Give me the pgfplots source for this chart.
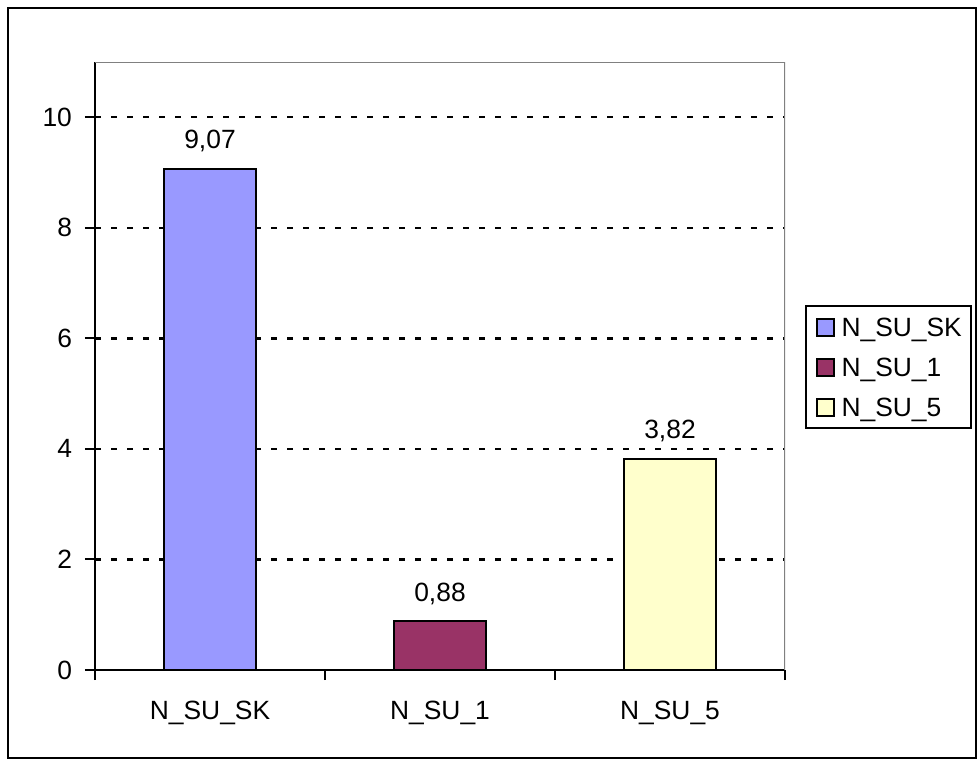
\documentclass[border=0pt]{standalone}
\usepackage{fontspec}
\setmainfont{Liberation Sans}
\usepackage{pgfplots}
\pgfplotsset{compat=1.18}
\definecolor{cBlue}{HTML}{9999FF}
\definecolor{cMaroon}{HTML}{993366}
\definecolor{cYellow}{HTML}{FFFFCC}
\begin{document}
\begin{tikzpicture}[x=1pt,y=1pt]
\path (0,0) rectangle (489,-380);
\draw[line width=1pt,black] (3.75,-3.75) rectangle (488,-379);
\begin{axis}[
  at={(47.5pt,-335pt)}, anchor=south west,
  scale only axis, width=345pt, height=304pt,
  ybar, bar shift=0pt, bar width=0.4,
  xmin=-0.5, xmax=2.5, ymin=0, ymax=11,
  xtick={0,1,2}, xticklabels={N\_SU\_SK,N\_SU\_1,N\_SU\_5},
  major x tick style={draw=none},
  minor xtick={-0.5,0.5,1.5,2.5},
  ytick={0,2,4,6,8,10},
  tick align=outside, major tick length=5pt, minor tick length=5pt,
  tick style={black, line width=1pt},
  minor tick style={black, line width=1pt},
  ymajorgrids,
  major grid style={black, line width=1.2pt, dash pattern=on 3pt off 5pt},
  axis line style={line width=1pt},
  axis x line*=bottom, axis y line*=left,
  every tick label/.append style={font=\fontsize{13.2}{15.5}\selectfont},
  /pgf/number format/assume math mode=true,
  xticklabel style={yshift=-7pt},
  yticklabel style={xshift=-3pt},
  nodes near coords={\pgfmathprintnumber[fixed,fixed zerofill,precision=2,use comma,assume math mode=true]{\pgfplotspointmeta}},
  every node near coord/.append style={font=\fontsize{13.2}{15.5}\selectfont, yshift=4.5pt, black},
  legend style={at={(1.029,0.6003)}, anchor=north west, draw=black, line width=1pt,
    font=\fontsize{13.2}{15.5}\selectfont, inner xsep=4.75pt, inner ysep=0.5pt,
    row sep=0pt,
    nodes={inner xsep=0pt, inner ysep=0pt, text height=14.8pt, text depth=5.2pt},
    /tikz/every odd column/.append style={column sep=3.5pt}},
  legend cell align=left,
  legend image code/.code={\draw[#1,draw=black,line width=1pt] (0pt,-4.25pt) rectangle (8.5pt,4.25pt);},
]
\addplot[fill=cBlue, draw=black, line width=1pt] coordinates {(0,9.07)};
\addplot[fill=cMaroon, draw=black, line width=1pt] coordinates {(1,0.88)};
\addplot[fill=cYellow, draw=black, line width=1pt] coordinates {(2,3.82)};
\legend{N\_SU\_SK,N\_SU\_1,N\_SU\_5}
\draw[black!50, line width=1pt] (rel axis cs:0,1) -- (rel axis cs:1,1) -- (rel axis cs:1,0);
\end{axis}
\end{tikzpicture}
\end{document}
